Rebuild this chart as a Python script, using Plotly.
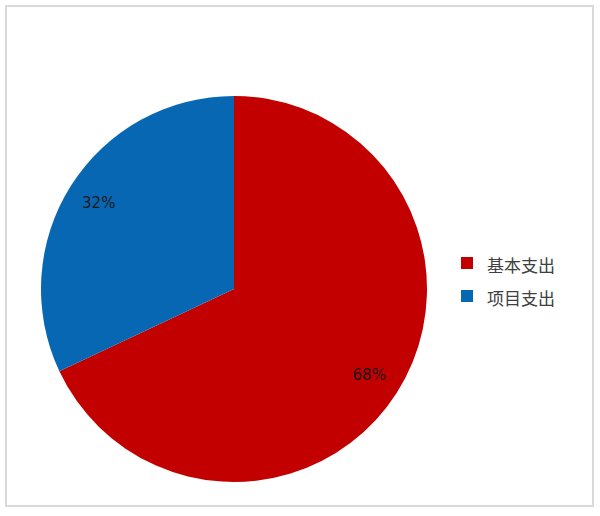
import plotly.graph_objects as go

categories = ["基本支出", "项目支出"]
values = [68, 32]
colors = ["#C30000", "#0867B3"]

dom = dict(x=[41/600, 427/600], y=[34/516, 420/516])

fig = go.Figure()
# main pie (colours + legend)
fig.add_trace(go.Pie(
    labels=[f'<span style="font-size:17px">{c}</span>' for c in categories],
    values=values,
    sort=False,
    direction="clockwise",
    rotation=0,
    marker=dict(colors=colors, line=dict(width=0)),
    textinfo="none",
    domain=dom,
    hoverinfo="label+percent",
))
# transparent ring only used to place the percentage labels further out
fig.add_trace(go.Pie(
    labels=categories,
    values=values,
    sort=False,
    direction="clockwise",
    rotation=0,
    hole=0.66,
    marker=dict(colors=["rgba(0,0,0,0)"] * len(values), line=dict(width=0)),
    texttemplate="%{percent:.0%}",
    textposition="inside",
    insidetextorientation="horizontal",
    textfont=dict(family="DejaVu Sans, Verdana, sans-serif", size=15, color="#1a1a1a"),
    domain=dom,
    showlegend=False,
    hoverinfo="skip",
))

fig.update_layout(
    width=600, height=516,
    margin=dict(l=0, r=0, t=0, b=0),
    paper_bgcolor="white",
    plot_bgcolor="white",
    showlegend=True,
    legend=dict(
        x=0.745, y=0.458, xanchor="left", yanchor="middle",
        font=dict(family="Noto Sans CJK SC, sans-serif", size=23, color="#404040"),
        itemwidth=30,
        bgcolor="rgba(0,0,0,0)",
    ),
    shapes=[dict(type="rect", xref="paper", yref="paper",
                 x0=6/600, x1=593/600, y0=10/516, y1=510/516,
                 line=dict(color="#D9D9D9", width=2), fillcolor="rgba(0,0,0,0)", layer="below")],
)

fig.write_html("out.html", config={"displayModeBar": False},
               post_script="document.body.style.margin='0';")
